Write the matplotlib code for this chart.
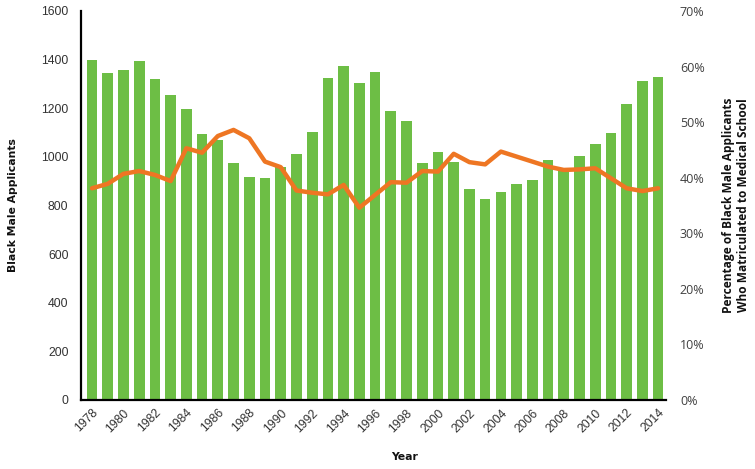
import matplotlib
matplotlib.use("Agg")
import matplotlib.pyplot as plt
from matplotlib.ticker import FuncFormatter

years = list(range(1978, 2015))
applicants = [1400, 1344, 1359, 1396, 1322, 1253, 1197, 1093, 1068, 975,
              916, 912, 960, 1012, 1101, 1326, 1375, 1303, 1349, 1189,
              1146, 974, 1020, 979, 867, 827, 854, 887, 904, 987,
              946, 1002, 1052, 1098, 1218, 1311, 1329]
pct_matric = [38.1, 38.9, 40.7, 41.2, 40.5, 39.4, 45.3, 44.5, 47.5, 48.6,
              47.1, 42.9, 41.9, 37.7, 37.3, 37.0, 38.7, 34.6, 36.9, 39.2,
              39.1, 41.2, 41.1, 44.3, 42.8, 42.4, 44.7, 43.8, 42.9, 42.0,
              41.4, 41.5, 41.7, 39.9, 38.1, 37.6, 38.1]
left_ticks = [0, 200, 400, 600, 800, 1000, 1200, 1400, 1600]
right_ticks = [0, 10, 20, 30, 40, 50, 60, 70]

GREEN = "#6DBE45"
ORANGE = "#EE7623"

fig = plt.figure(figsize=(7.55, 4.69), dpi=100)
ax = fig.add_axes([81/755, 1-400/469, (666-81)/755, (400-11)/469])
x = list(range(len(years)))
ax.bar(x, applicants, width=0.68, color=GREEN, zorder=2)
ax.set_ylim(0, 1600)
ax.set_xlim(-0.7, len(years) - 0.5)
ax.set_yticks(left_ticks)
ax.set_yticklabels([str(t) for t in left_ticks], fontfamily="Liberation Sans",
                   fontsize=8.8, color="#333333")
ax.tick_params(axis="y", length=0, pad=9)
ax.set_xticks(x[::2])
ax.set_xticklabels([str(y) for y in years[::2]], rotation=45, ha="right",
                   va="top", rotation_mode="anchor", fontfamily="Liberation Sans",
                   fontsize=8.8, color="#333333")
ax.tick_params(axis="x", length=0, pad=5)
for s in ["top", "right"]:
    ax.spines[s].set_visible(False)
for s in ["left", "bottom"]:
    ax.spines[s].set_linewidth(1.6)
    ax.spines[s].set_color("black")
ax.spines["bottom"].set_zorder(4)

ax2 = ax.twinx()
ax2.plot(x, pct_matric, color=ORANGE, linewidth=3.2, solid_joinstyle="round",
         solid_capstyle="round", zorder=3)
ax2.set_ylim(0, 70)
ax2.set_yticks(right_ticks)
ax2.yaxis.set_major_formatter(FuncFormatter(lambda v, p: f"{int(v)}%"))
for lab in ax2.get_yticklabels():
    lab.set_fontfamily("Open Sans")
    lab.set_fontsize(9)
    lab.set_color("#404040")
ax2.tick_params(axis="y", length=0, pad=10)
for s in ax2.spines.values():
    s.set_visible(False)

fig.text(13/755, 1-205/469, "Black Male Applicants", rotation=90, ha="center",
         va="center", fontsize=7.8, fontweight="bold", fontfamily="DejaVu Sans",
         color="#111111")
fig.text(405/755, 1-457/469, "Year", ha="center", va="center", fontsize=7.8,
         fontweight="bold", fontfamily="DejaVu Sans", color="#111111")
fig.text(736/755, 1-205/469,
         "Percentage of Black Male Applicants\nWho Matriculated to Medical School",
         rotation=90, ha="center", va="center", fontsize=8.6, fontweight="bold",
         fontfamily="Open Sans", color="#111111", linespacing=1.25)

fig.savefig("out.png", dpi=100)
